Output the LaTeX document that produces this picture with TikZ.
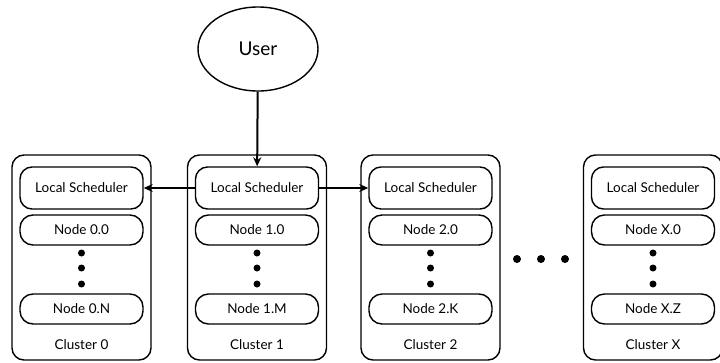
\documentclass[tikz,border=0pt]{standalone}
\usepackage{fontspec}
\setmainfont{Lato}
\usetikzlibrary{shapes.geometric, arrows.meta}
\tikzset{
  cluster/.style={draw=black, line width=1.4pt, rounded corners=12pt, minimum width=139pt, minimum height=205pt},
  sched/.style={draw=black, line width=1.4pt, rounded corners=12pt, minimum width=123pt, minimum height=42pt, font=\fontsize{13.5}{15}\selectfont},
  worker/.style={draw=black, line width=1.4pt, rounded corners=13pt, minimum width=123pt, minimum height=30pt, font=\fontsize{13.5}{15}\selectfont},
  vdot/.style={circle, fill=black, inner sep=0pt, minimum size=7pt},
  link/.style={-{Stealth[length=9pt, width=8pt]}, line width=2pt},
}
\begin{document}
\begin{tikzpicture}[x=1pt, y=-1pt]
        \useasboundingbox (0,0) rectangle (720,362);

        \node[draw=black, ellipse, line width=1.4pt, minimum width=120pt, minimum height=84pt, font=\fontsize{19}{21}\selectfont] (user) at (258,49) {User};

        \foreach \i/\cx/\first/\last in {0/81.5/0.0/0.N, 1/257/1.0/1.M, 2/430.5/2.0/2.K, X/653/X.0/X.Z} {
            \node[cluster] (c\i) at (\cx,257.5) {};
            \node[sched] (ls\i) at (\cx,188) {Local Scheduler};
            \node[worker] (top\i) at (\cx,230) {Node \first};
            \node[vdot] (da\i) at (\cx,253) {};
            \node[vdot] (db\i) at (\cx,268) {};
            \node[vdot] (dc\i) at (\cx,284) {};
            \node[worker] (bot\i) at (\cx,309) {Node \last};
            \node[font=\fontsize{13.5}{15}\selectfont] (name\i) at (\cx,345) {Cluster \i};
        }

        \node[vdot, minimum size=8pt] (ha) at (517,259) {};
        \node[vdot, minimum size=8pt] (hb) at (541,259) {};
        \node[vdot, minimum size=8pt] (hc) at (565,259) {};

        \draw[link] (user) -- (ls1);
        \draw[link] (ls1) -- (ls0);
        \draw[link] (ls1) -- (ls2);
    \end{tikzpicture}
\end{document}
